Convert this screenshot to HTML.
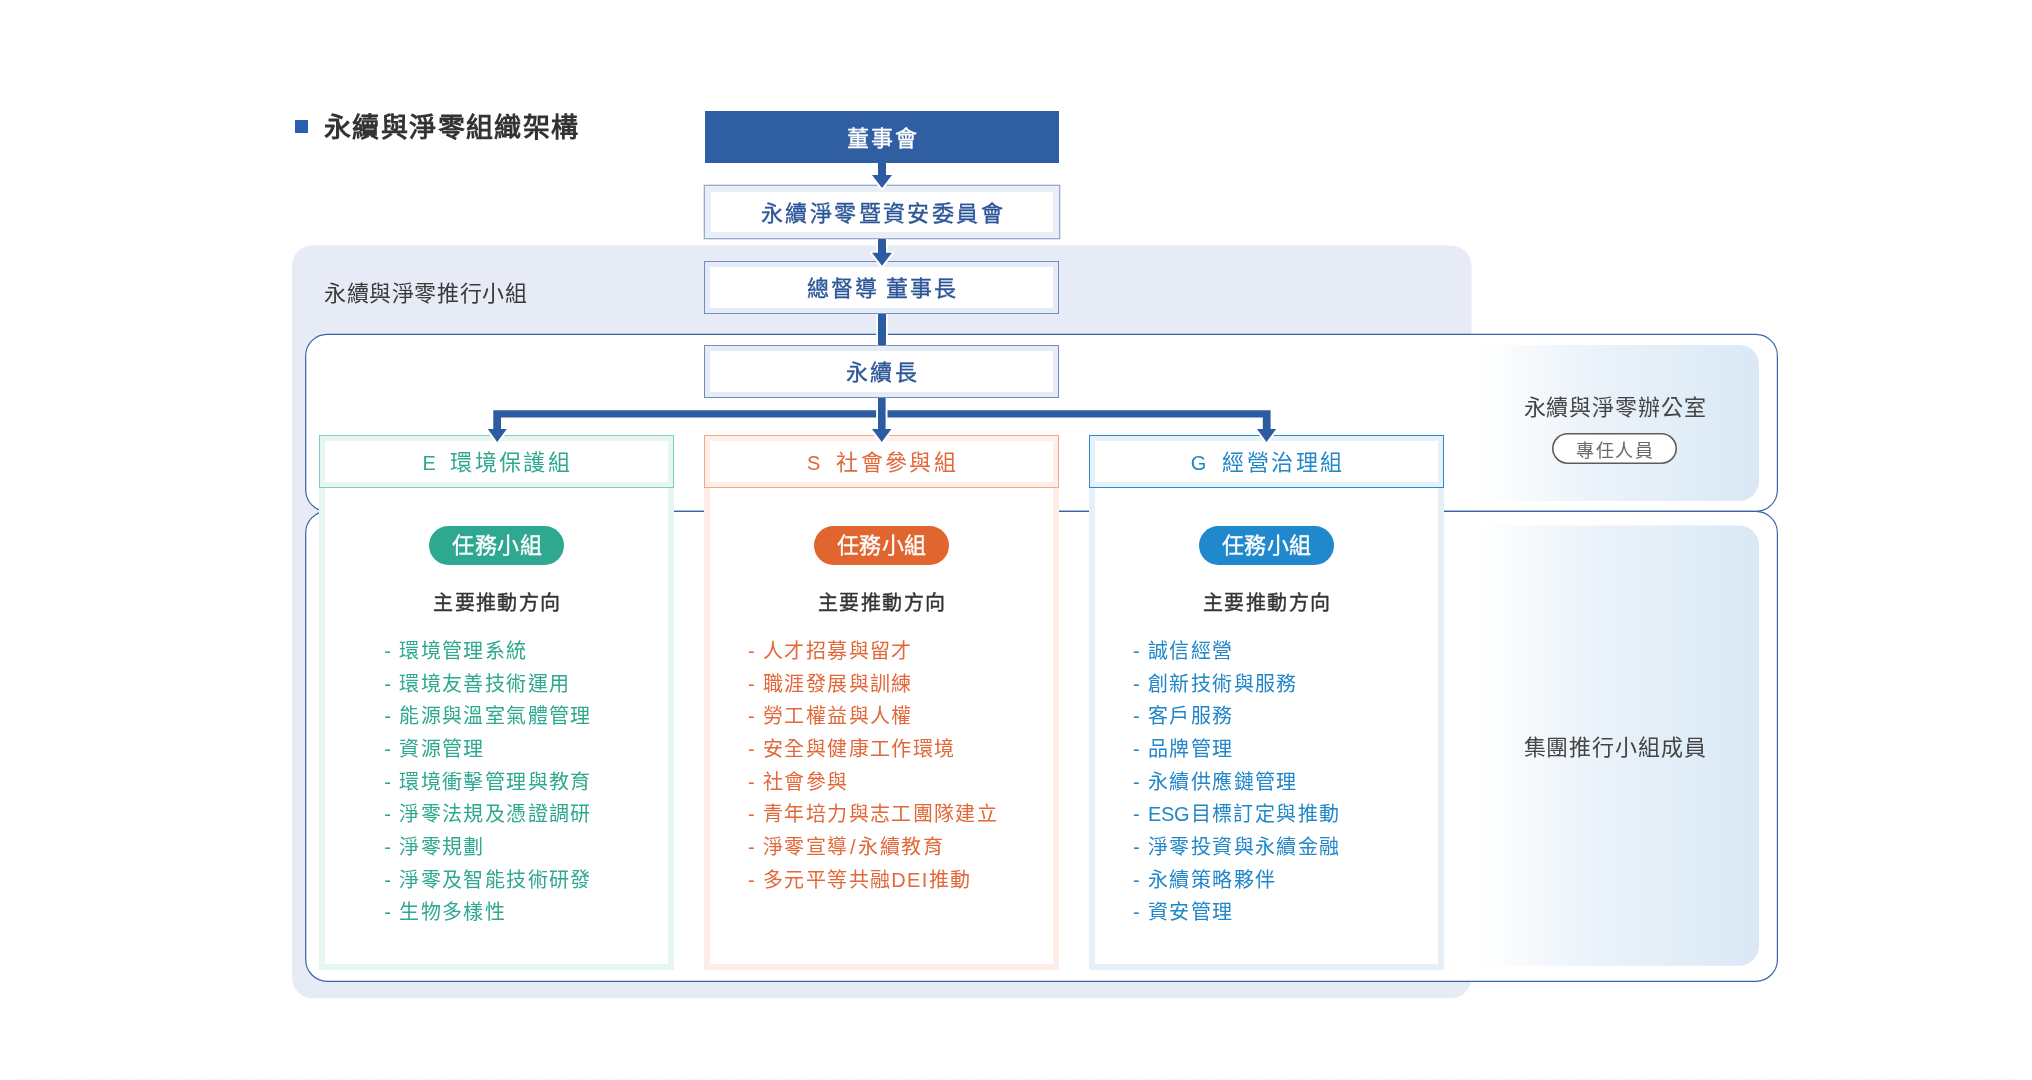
<!DOCTYPE html>
<html lang="zh-TW">
<head>
<meta charset="utf-8">
<title>永續與淨零組織架構</title>
<style>
  html, body { margin: 0; padding: 0; }
  body {
    width: 2032px; height: 1080px; overflow: hidden; position: relative;
    background: #ffffff;
    font-family: "Liberation Sans", sans-serif;
    color: #333333;
  }
  #stage { position: absolute; left: 0; top: 0; width: 2032px; height: 1080px; will-change: transform; }
  #shapes { position: absolute; left: 0; top: 0; width: 2032px; height: 1080px; }
  .t { position: absolute; white-space: nowrap; line-height: 1; margin: 0; }
  .c { text-align: center; }

  /* page title */
  .bullet { position: absolute; left: 295px; top: 120px; width: 13px; height: 13px; background: #2b5cb6; }
  .title { left: 324px; top: 113px; font-size: 27px; font-weight: 700; letter-spacing: 1.4px; color: #333333; line-height: 30px; }
  .group-label { left: 324px; top: 282px; font-size: 22px; font-weight: 400; letter-spacing: 0.6px; color: #3a3a3a; line-height: 24px; }

  /* chain boxes */
  .box { position: absolute; box-sizing: border-box; left: 704px; width: 355px; height: 52px; background: #fff;
         display: flex; align-items: center; justify-content: center;
         font-size: 22px; font-weight: 400; letter-spacing: 2.4px; color: #2d5698; padding: 0 0 3px 2.4px; word-spacing: -2.7px; -webkit-text-stroke: 0.35px currentColor; }
  .box.b1 { left: 705px; width: 354px; top: 111px; height: 52px; background: #305ea3; color: #fff; }
  .box.b2 { left: 704px; width: 355.5px; top: 185.4px; height: 53.3px; border: 1px solid #9aabd2; box-shadow: inset 0 0 0 6px #e9eef7, 0 0 0 0.6px rgba(154,171,210,0.55); }
  .box.b3 { top: 261px; height: 53px; border: 1px solid #728dc3; box-shadow: inset 0 0 0 5px #e6ecf6; }
  .box.b4 { top: 345px; height: 53px; border: 1px solid #728dc3; box-shadow: inset 0 0 0 5px #e6ecf6; }

  /* columns */
  .col { position: absolute; top: 435px; width: 355px; height: 535px; }
  .col.e { left: 319.3px; }
  .col.s { left: 704px; }
  .col.g { left: 1089px; }
  .col .body { position: absolute; box-sizing: border-box; left: 0; top: 52px; width: 355px; height: 483px; background: #fff; border: 6px solid; border-top: none; }
  .col.e .body { border-color: #e6f6f2; }
  .col.s .body { border-color: #fdede7; }
  .col.g .body { border-color: #e6f0f9; }
  .col .head { position: absolute; box-sizing: border-box; left: -0.5px; top: 0; width: 355.5px; height: 53px; background: #fff;
               display: flex; align-items: center; justify-content: center;
               font-size: 22px; font-weight: 400; letter-spacing: 2.4px; padding: 0 0 4px 0; }
  .col .head span { display: block; white-space: nowrap; }
  .col.s .head span, .col.g .head span { padding-left: 2.6px; }
  .col.e .head b { position: relative; left: 1.5px; }
  .col .head b { font-weight: 400; font-size: 20px; margin-right: 16px; letter-spacing: 0; }
  .col.e .head { border: 1px solid #7fd0ba; box-shadow: inset 0 0 0 5px #e6f6f2; color: #2ea88f; }
  .col.s .head { border: 1px solid #f3a88a; box-shadow: inset 0 0 0 5px #fdeee8; color: #e2683a; }
  .col.g .head { border: 1px solid #2a8ccb; box-shadow: inset 0 0 0 5px #e7f1fa; color: #2287c8; }

  .pill { position: absolute; left: 110px; top: 91px; width: 135px; height: 39px; border-radius: 20px;
          display: flex; align-items: center; justify-content: center;
          color: #fff; font-size: 22px; font-weight: 400; letter-spacing: 0.5px; -webkit-text-stroke: 0.35px currentColor; box-sizing: border-box; padding: 0 0 5px 0.5px; }
  .col.e .pill { background: #2fa892; }
  .col.s .pill { background: #e0652f; }
  .col.g .pill { background: #2088cc; }

  .sub { position: absolute; left: 0; width: 355px; top: 157px; text-align: center; font-size: 20px; font-weight: 400;
         letter-spacing: 1.4px; padding-left: 1.4px; box-sizing: border-box; color: #333; line-height: 22px; -webkit-text-stroke: 0.4px currentColor; }

  ul.items { position: absolute; margin: 0; padding: 0; list-style: none; top: 200px; left: 64px; font-size: 20px;
             font-weight: 400; letter-spacing: 1.38px; line-height: 32.65px; white-space: nowrap; }
  ul.items li { margin: 0; padding: 0; }
  ul.items .la { letter-spacing: -0.4px; margin-right: 1.6px; }
  ul.items .sl { margin: 0 1.5px; }
  ul.items li i { font-style: normal; display: inline-block; width: 15px; letter-spacing: 0; }
  .col.e ul.items { left: 65px; color: #2ea88f; }
  .col.s ul.items { left: 44px; color: #e2683a; }
  .col.g ul.items { left: 44px; color: #2287c8; }

  /* right side labels */
  .rlabel { left: 1471px; width: 288px; font-size: 22px; letter-spacing: 0.85px; color: #444; font-weight: 400; line-height: 24px; }
  .rpill { position: absolute; box-sizing: border-box; left: 1552px; top: 433px; width: 125px; height: 31px; border-radius: 16px;
           border: none; box-shadow: inset 0 0 0 1.6px #5c5c5c; background: #fff; color: #6a6a6a; font-size: 18px; letter-spacing: 1.5px;
           display: flex; align-items: center; justify-content: center; padding-left: 1.5px; }
</style>
</head>
<body>
<div id="stage">

<svg id="shapes" width="2032" height="1080" viewBox="0 0 2032 1080">
  <defs>
    <linearGradient id="gr" x1="0" y1="0" x2="1" y2="0">
      <stop offset="0" stop-color="#ffffff"/>
      <stop offset="0.1" stop-color="#fbfdfe"/>
      <stop offset="0.4" stop-color="#ecf3fa"/>
      <stop offset="0.75" stop-color="#e1edf7"/>
      <stop offset="1" stop-color="#dae8f6"/>
    </linearGradient>
  </defs>
  <!-- grey group background -->
  <rect x="292" y="245.5" width="1179.5" height="752.8" rx="20.5" ry="20.5" fill="#e6ebf5"/>
  <!-- white panels with outline -->
  <rect x="305.7" y="334.4" width="1471.7" height="177" rx="21.5" ry="21.5" fill="#ffffff" stroke="#3b64a8" stroke-width="1.2"/>
  <rect x="305.7" y="511.4" width="1471.7" height="469.9" rx="21.5" ry="21.5" fill="#ffffff" stroke="#3b64a8" stroke-width="1.2"/>
  <!-- gradient panels -->
  <path d="M1471 345 H1739 a20 20 0 0 1 20 20 V481 a20 20 0 0 1 -20 20 H1471 Z" fill="url(#gr)"/>
  <path d="M1471 525.5 H1739 a20 20 0 0 1 20 20 V945.8 a20 20 0 0 1 -20 20 H1471 Z" fill="url(#gr)"/>
  <!-- faint bottom rule -->
  <line x1="13" y1="1079.5" x2="2018" y2="1079.5" stroke="#f3f5f8" stroke-width="1" stroke-dasharray="1.5 1.5"/>
</svg>

<div class="bullet"></div>
<div class="t title">永續與淨零組織架構</div>
<div class="t group-label">永續與淨零推行小組</div>

<div class="box b1">董事會</div>
<div class="box b2">永續淨零暨資安委員會</div>
<div class="box b3">總督導 董事長</div>
<div class="box b4">永續長</div>

<div class="col e">
  <div class="body"></div>
  <div class="head"><span><b>E</b>環境保護組</span></div>
  <div class="pill">任務小組</div>
  <div class="sub">主要推動方向</div>
  <ul class="items">
    <li><i>-</i>環境管理系統</li>
    <li><i>-</i>環境友善技術運用</li>
    <li><i>-</i>能源與溫室氣體管理</li>
    <li><i>-</i>資源管理</li>
    <li><i>-</i>環境衝擊管理與教育</li>
    <li><i>-</i>淨零法規及憑證調研</li>
    <li><i>-</i>淨零規劃</li>
    <li><i>-</i>淨零及智能技術研發</li>
    <li><i>-</i>生物多樣性</li>
  </ul>
</div>

<div class="col s">
  <div class="body"></div>
  <div class="head"><span><b>S</b>社會參與組</span></div>
  <div class="pill">任務小組</div>
  <div class="sub">主要推動方向</div>
  <ul class="items">
    <li><i>-</i>人才招募與留才</li>
    <li><i>-</i>職涯發展與訓練</li>
    <li><i>-</i>勞工權益與人權</li>
    <li><i>-</i>安全與健康工作環境</li>
    <li><i>-</i>社會參與</li>
    <li><i>-</i>青年培力與志工團隊建立</li>
    <li><i>-</i>淨零宣導<span class="sl">/</span>永續教育</li>
    <li><i>-</i>多元平等共融DEI推動</li>
  </ul>
</div>

<div class="col g">
  <div class="body"></div>
  <div class="head"><span><b>G</b>經營治理組</span></div>
  <div class="pill">任務小組</div>
  <div class="sub">主要推動方向</div>
  <ul class="items">
    <li><i>-</i>誠信經營</li>
    <li><i>-</i>創新技術與服務</li>
    <li><i>-</i>客戶服務</li>
    <li><i>-</i>品牌管理</li>
    <li><i>-</i>永續供應鏈管理</li>
    <li><i>-</i><span class="la">ESG</span>目標訂定與推動</li>
    <li><i>-</i>淨零投資與永續金融</li>
    <li><i>-</i>永續策略夥伴</li>
    <li><i>-</i>資安管理</li>
  </ul>
</div>

<div class="t c rlabel" style="top:396px;">永續與淨零辦公室</div>
<div class="rpill">專任人員</div>
<div class="t c rlabel" style="top:736px;">集團推行小組成員</div>

<!-- connectors (drawn above boxes, with white halo) -->
<svg id="conn" style="position:absolute;left:0;top:0;pointer-events:none" width="2032" height="1080" viewBox="0 0 2032 1080">
  <defs>
    <clipPath id="c1"><rect x="860" y="163" width="44" height="40"/></clipPath>
    <clipPath id="c2"><rect x="860" y="239" width="44" height="40"/></clipPath>
    <clipPath id="c3"><rect x="860" y="314" width="44" height="31.3"/></clipPath>
    <clipPath id="c5"><rect x="860" y="398" width="44" height="60"/></clipPath>
  </defs>
  <g fill="#2d5ba2" stroke="#ffffff" stroke-width="3.8" stroke-linejoin="round" paint-order="stroke">
    <!-- 董事會 to 委員會 -->
    <path clip-path="url(#c1)" d="M878 150 H886 V175 H892 L882 188 L872 175 H878 Z"/>
    <!-- 委員會 to 總督導 -->
    <path clip-path="url(#c2)" d="M878 230 H886 V252.8 H892 L882 265.8 L872 252.8 H878 Z"/>
    <!-- 總督導 to 永續長 -->
    <path clip-path="url(#c3)" d="M878 305 H886 V355 H878 Z"/>
    <!-- horizontal bar with side drops -->
    <path d="M493.3 410.2 H1270.6 V429.1 H1276.2 L1266.5 442 L1257 429.1 H1262.8 V417.4 H501 V429.1 H506.8 L497.2 442 L487.8 429.1 H493.3 Z"/>
    <!-- centre drop -->
    <path clip-path="url(#c5)" d="M878 390 H885.6 V429.1 H891.4 L881.8 442 L872 429.1 H878 Z"/>
  </g>
</svg>

</div>
</body>
</html>
